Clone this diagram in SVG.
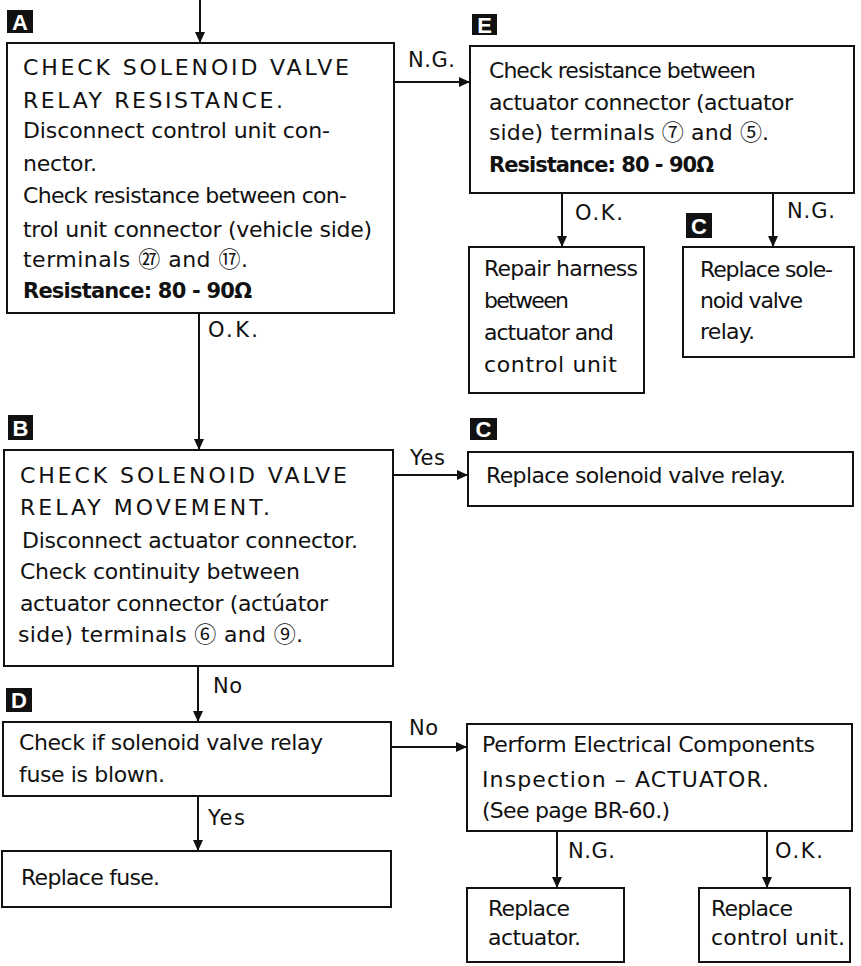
<svg xmlns="http://www.w3.org/2000/svg" width="861" height="966" viewBox="0 0 861 966">
<style>
.box{fill:#fff;stroke:#111;stroke-width:2}
.t{font-family:"DejaVu Sans","Liberation Sans","Noto Sans CJK JP",sans-serif;font-size:22px;fill:#111}
.b{font-weight:bold;font-size:21px}
.n{font-family:"Noto Sans CJK JP","DejaVu Sans",sans-serif;font-size:22px}
.el{font-family:"DejaVu Sans","Liberation Sans",sans-serif;font-size:21px;fill:#111}
.tag{fill:#111}
.tagt{font-family:"Liberation Sans",sans-serif;font-weight:bold;font-size:22px;fill:#fff;text-anchor:middle}
.c{stroke:#111;stroke-width:2;fill:none;marker-end:url(#ah)}
</style>
<defs>
<marker id="ah" markerWidth="11" markerHeight="10" refX="11" refY="5" orient="auto" markerUnits="userSpaceOnUse">
<path d="M0,0 L11,5 L0,10 z" fill="#111"/>
</marker>
</defs>
<rect width="861" height="966" fill="#fff"/>
<g id="connectors">
<line class="c" x1="200" y1="0" x2="200" y2="43"/>
<line class="c" x1="394" y1="82" x2="470" y2="82"/>
<line class="c" x1="199" y1="313" x2="199" y2="450"/>
<line class="c" x1="562" y1="193" x2="562" y2="247"/>
<line class="c" x1="773" y1="193" x2="773" y2="247"/>
<line class="c" x1="393" y1="475" x2="468" y2="475"/>
<line class="c" x1="198" y1="666" x2="198" y2="722"/>
<line class="c" x1="391" y1="747" x2="467" y2="747"/>
<line class="c" x1="198" y1="796" x2="198" y2="851"/>
<line class="c" x1="557" y1="831" x2="557" y2="888"/>
<line class="c" x1="767" y1="831" x2="767" y2="888"/>
<text class="el" x="408" y="67" textLength="47">N.G.</text>
<text class="el" x="208" y="337" textLength="50">O.K.</text>
<text class="el" x="575" y="220" textLength="48">O.K.</text>
<text class="el" x="787" y="218" textLength="48">N.G.</text>
<text class="el" x="410" y="465" textLength="35">Yes</text>
<text class="el" x="213" y="693" textLength="29">No</text>
<text class="el" x="409" y="735" textLength="29">No</text>
<text class="el" x="208" y="825" textLength="37">Yes</text>
<text class="el" x="568" y="858" textLength="47">N.G.</text>
<text class="el" x="775" y="858" textLength="48">O.K.</text>
</g>
<g id="nodeA">
<rect class="tag" x="7" y="10" width="26" height="23"/>
<text class="tagt" x="20" y="29.5">A</text>
<rect class="box" x="7" y="43" width="387" height="270"/>
<text class="t" x="23" y="75" textLength="326">CHECK SOLENOID VALVE</text>
<text class="t" x="23" y="108" textLength="260">RELAY RESISTANCE.</text>
<text class="t" x="23" y="138" textLength="307">Disconnect control unit con-</text>
<text class="t" x="23" y="171" textLength="74">nector.</text>
<text class="t" x="23" y="203" textLength="324">Check resistance between con-</text>
<text class="t" x="23" y="237" textLength="349">trol unit connector (vehicle side)</text>
<text class="t" x="23" y="267" textLength="225">terminals <tspan class="n">㉗</tspan> and <tspan class="n">⑰</tspan>.</text>
<text class="t b" x="23" y="298" textLength="229">Resistance:  80 - 90Ω</text>
</g>
<g id="nodeE">
<rect class="tag" x="472" y="14" width="25" height="21"/>
<text class="tagt" x="484.5" y="32.5">E</text>
<rect class="box" x="470" y="46" width="384" height="147"/>
<text class="t" x="489" y="78" textLength="267">Check resistance between</text>
<text class="t" x="489" y="110" textLength="304">actuator connector (actuator</text>
<text class="t" x="489" y="140" textLength="280">side) terminals <tspan class="n">⑦</tspan> and <tspan class="n">⑤</tspan>.</text>
<text class="t b" x="489" y="172" textLength="225">Resistance:  80 - 90Ω</text>
</g>
<g id="nodeRepair">
<rect class="box" x="469" y="247" width="175" height="146"/>
<text class="t" x="484" y="276" textLength="154">Repair harness</text>
<text class="t" x="484" y="308" textLength="85">between</text>
<text class="t" x="484" y="340" textLength="130">actuator and</text>
<text class="t" x="484" y="372" textLength="133">control  unit</text>
</g>
<g id="nodeC1">
<rect class="tag" x="686" y="213" width="26" height="25"/>
<text class="tagt" x="699" y="233.5">C</text>
<rect class="box" x="683" y="247" width="171" height="110"/>
<text class="t" x="700" y="277" textLength="133">Replace sole-</text>
<text class="t" x="700" y="308" textLength="103">noid valve</text>
<text class="t" x="700" y="339" textLength="55">relay.</text>
</g>
<g id="nodeB">
<rect class="tag" x="8" y="415" width="25" height="25"/>
<text class="tagt" x="20.5" y="435.5">B</text>
<rect class="box" x="4" y="450" width="389" height="216"/>
<text class="t" x="20" y="483" textLength="327">CHECK SOLENOID VALVE</text>
<text class="t" x="20" y="515" textLength="250">RELAY MOVEMENT.</text>
<text class="t" x="22" y="548" textLength="336">Disconnect actuator connector.</text>
<text class="t" x="20" y="579" textLength="280">Check continuity between</text>
<text class="t" x="20" y="611" textLength="308">actuator connector (actúator</text>
<text class="t" x="18" y="642" textLength="285">side) terminals <tspan class="n">⑥</tspan> and <tspan class="n">⑨</tspan>.</text>
</g>
<g id="nodeC2">
<rect class="tag" x="470" y="418" width="27" height="22"/>
<text class="tagt" x="483.5" y="437">C</text>
<rect class="box" x="468" y="452" width="385" height="54"/>
<text class="t" x="486" y="483" textLength="300">Replace solenoid valve relay.</text>
</g>
<g id="nodeD">
<rect class="tag" x="6" y="688" width="26" height="24"/>
<text class="tagt" x="19" y="708">D</text>
<rect class="box" x="3" y="722" width="388" height="74"/>
<text class="t" x="19" y="750" textLength="304">Check if solenoid valve relay</text>
<text class="t" x="19" y="782" textLength="146">fuse is blown.</text>
</g>
<g id="nodeFuse">
<rect class="box" x="2" y="851" width="389" height="56"/>
<text class="t" x="21" y="885" textLength="139">Replace fuse.</text>
</g>
<g id="nodePerform">
<rect class="box" x="467" y="724" width="385" height="107"/>
<text class="t" x="482" y="752" textLength="333">Perform Electrical Components</text>
<text class="t" x="482" y="787" textLength="287">Inspection – ACTUATOR.</text>
<text class="t" x="482" y="818" textLength="188">(See page BR-60.)</text>
</g>
<g id="nodeActuator">
<rect class="box" x="467" y="888" width="157" height="74"/>
<text class="t" x="488" y="916" textLength="82">Replace</text>
<text class="t" x="488" y="945" textLength="93">actuator.</text>
</g>
<g id="nodeControl">
<rect class="box" x="699" y="888" width="151" height="74"/>
<text class="t" x="711" y="916" textLength="82">Replace</text>
<text class="t" x="711" y="945" textLength="134">control unit.</text>
</g>
</svg>
